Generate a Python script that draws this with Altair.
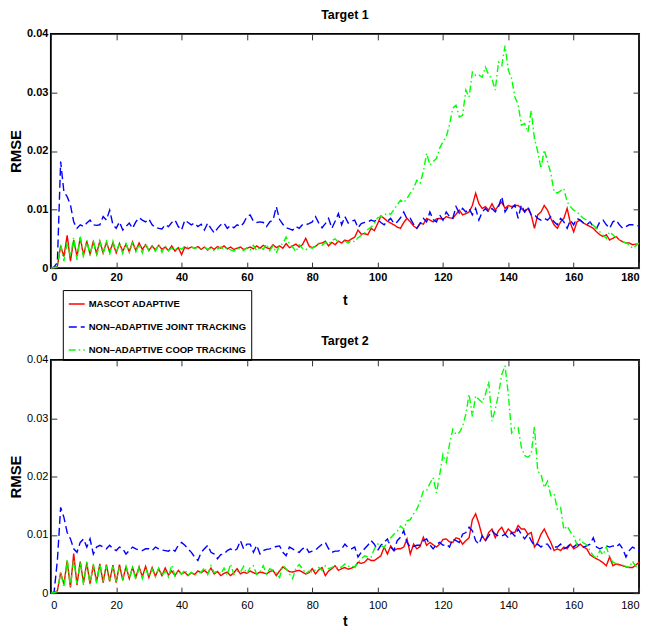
import altair as alt
import pandas as pd

# time axis
t = list(range(181))

series_names = ["MASCOT ADAPTIVE", "NON\u2013ADAPTIVE JOINT TRACKING", "NON\u2013ADAPTIVE COOP TRACKING"]
series_colors = ["#ff0000", "#0000ff", "#00ff00"]
series_dashes = [[1, 0], [8, 4], [7, 3, 1.5, 3]]

x_ticks = [0, 20, 40, 60, 80, 100, 120, 140, 160, 180]
y_ticks = [0, 0.01, 0.02, 0.03, 0.04]

# RMSE values in units of 1e-3, t = 0..180
t1_mascot = [
    0, 0.1, 0.3, 3.8, 2.0, 5.6, 1.2, 4.8, 2.0, 5.2,
    2.2, 4.6, 2.4, 4.5, 2.5, 4.6, 2.6, 4.4, 2.8, 4.3,
    2.6, 4.2, 2.9, 4.1, 2.8, 4.5, 3.0, 4.3, 3.2, 4.0,
    3.0, 3.8, 3.1, 3.9, 3.2, 3.6, 3.0, 3.8, 2.9, 3.5,
    2.3, 3.6, 3.3, 3.6, 3.4, 3.7, 3.2, 3.6, 3.1, 3.6,
    3.2, 3.7, 3.4, 3.8, 3.3, 3.6, 3.2, 3.4, 3.6, 3.2,
    3.4, 3.6, 3.3, 3.8, 3.4, 3.9, 3.5, 3.3, 4.0, 3.5,
    3.8, 3.4, 4.2, 3.5, 3.8, 4.1, 3.6, 4.0, 5.1, 3.8,
    3.5, 3.7, 4.2, 4.3, 4.6, 3.8, 4.4, 4.0, 4.6, 4.3,
    4.8, 4.6, 5.0, 5.3, 6.5, 5.8, 5.9, 5.7, 6.8, 6.4,
    7.6, 8.9, 8.5, 8.0, 7.7, 7.4, 7.0, 6.8, 7.8, 8.5,
    7.9, 7.2, 6.8, 7.7, 7.5, 8.5, 8.2, 7.9, 8.4, 8.5,
    8.3, 8.8, 8.6, 8.5, 9.2, 9.9, 9.1, 9.3, 9.6, 10.7,
    12.8, 11.0, 10.2, 10.5, 9.9, 11.0, 9.9, 10.7, 11.3, 10.2,
    10.7, 10.5, 10.7, 10.7, 10.2, 9.6, 10.2, 9.1, 6.8, 9.1,
    9.6, 10.7, 9.9, 8.5, 7.4, 6.8, 7.9, 8.5, 10.2, 7.7,
    6.2, 7.9, 8.2, 7.7, 7.4, 7.1, 6.8, 6.2, 5.7, 5.4,
    5.7, 4.8, 5.1, 5.4, 4.8, 4.5, 4.3, 4.3, 4.0, 4.1,
    4.1,
]
t1_joint = [
    0, 0.2, 1.0, 18.2, 13.0, 12.2, 10.8, 7.9, 6.8, 7.4,
    7.1, 7.7, 8.2, 7.4, 7.3, 7.4, 8.8, 8.2, 9.9, 7.4,
    6.8, 7.9, 6.5, 7.1, 7.7, 6.8, 7.9, 8.6, 8.2, 7.9,
    8.4, 7.4, 6.9, 6.8, 6.7, 7.4, 7.1, 7.8, 8.2, 7.1,
    6.5, 8.2, 7.8, 7.4, 7.7, 7.1, 7.5, 6.5, 7.7, 6.8,
    6.0, 6.8, 7.4, 7.7, 6.8, 7.3, 6.9, 7.4, 7.1, 7.7,
    8.8, 9.1, 8.0, 7.8, 7.9, 7.8, 7.1, 7.9, 8.2, 10.5,
    8.3, 7.5, 6.9, 6.7, 6.5, 7.1, 6.8, 7.4, 7.4, 7.6,
    7.9, 8.8, 7.7, 6.9, 7.6, 8.5, 6.8, 8.0, 9.3, 7.4,
    8.8, 7.7, 8.0, 8.2, 6.9, 7.6, 7.8, 7.9, 8.2, 8.0,
    8.3, 7.8, 7.4, 8.0, 8.5, 7.6, 7.9, 8.6, 9.6, 8.4,
    8.5, 7.5, 6.8, 7.6, 8.5, 7.9, 9.6, 8.3, 7.9, 9.1,
    8.2, 9.6, 8.8, 8.5, 10.5, 9.4, 10.2, 9.6, 10.2, 9.1,
    10.2, 8.2, 9.6, 10.2, 9.6, 10.2, 9.6, 10.5, 12.2, 9.6,
    10.5, 10.2, 10.8, 8.5, 10.8, 9.6, 10.5, 9.1, 9.1, 8.5,
    8.2, 8.5, 8.2, 8.8, 7.9, 7.4, 8.5, 7.9, 6.8, 8.2,
    7.4, 8.5, 8.2, 7.7, 7.4, 7.9, 7.1, 6.8, 7.9, 8.2,
    7.4, 6.8, 7.9, 8.2, 7.4, 6.8, 7.1, 7.4, 7.4, 7.3,
    7.2,
]
t1_coop = [
    0, 0.1, 0.2, 4.0, 1.2, 4.4, 2.0, 5.2, 1.4, 5.4,
    1.8, 4.8, 2.2, 4.8, 2.0, 4.6, 2.4, 4.8, 2.3, 4.6,
    2.6, 4.3, 2.5, 4.2, 2.7, 4.3, 2.8, 4.0, 2.6, 4.2,
    3.0, 3.6, 2.9, 4.0, 2.7, 3.8, 3.0, 3.4, 3.1, 3.6,
    3.2, 3.8, 3.5, 3.6, 3.4, 3.5, 3.3, 3.6, 3.2, 3.4,
    3.0, 3.3, 3.6, 3.2, 3.5, 3.1, 2.9, 3.2, 3.4, 3.0,
    3.5, 3.1, 3.9, 3.0, 3.6, 3.2, 4.1, 3.0, 3.8, 2.6,
    3.9, 4.2, 5.3, 4.2, 3.6, 2.8, 4.0, 3.4, 3.1, 3.6,
    3.4, 3.8, 4.2, 3.9, 4.4, 4.1, 4.7, 5.0, 4.4, 4.2,
    4.6, 4.3, 4.7, 4.5, 5.2, 5.6, 6.0, 6.6, 7.0, 7.6,
    8.6, 8.8, 9.0, 9.4, 9.2, 10.0, 10.8, 11.6, 11.2, 11.9,
    12.8, 13.6, 15.0, 14.5, 16.5, 19.6, 17.6, 18.2, 18.7, 20.5,
    21.6, 22.4, 24.5, 27.3, 27.8, 25.8, 26.1, 30.4, 29.2, 33.5,
    32.9, 33.0, 32.6, 34.3, 33.0, 32.3, 30.4, 35.2, 34.6, 38.0,
    33.8, 32.4, 29.2, 28.0, 24.4, 24.7, 23.2, 26.9, 22.1, 19.9,
    17.0, 20.2, 18.2, 16.2, 13.1, 12.8, 13.2, 13.6, 11.3, 10.5,
    9.9, 9.6, 9.0, 8.5, 8.2, 7.9, 7.3, 6.8, 6.2, 5.6,
    5.1, 6.2, 5.7, 5.2, 4.8, 4.5, 4.3, 4.0, 3.4, 3.8,
    4.3,
]
t2_mascot = [
    0, 0.1, 0.4, 3.5, 1.5, 5.5, 1.0, 6.8, 1.4, 5.4,
    1.8, 5.2, 1.6, 4.8, 2.0, 5.0, 1.8, 4.9, 2.0, 4.8,
    1.8, 4.9, 2.2, 4.6, 2.5, 4.4, 2.7, 4.5, 2.8, 4.6,
    2.7, 4.4, 2.9, 4.2, 3.0, 4.3, 3.1, 3.8, 3.0, 3.9,
    3.3, 3.6, 3.0, 3.5, 3.2, 3.8, 3.5, 3.9, 3.4, 4.3,
    3.3, 3.7, 3.0, 3.4, 3.6, 3.0, 3.5, 4.2, 3.3, 3.6,
    3.4, 3.8, 3.5, 3.3, 3.6, 3.5, 3.3, 3.7, 3.9, 3.0,
    3.8, 4.5, 4.1, 3.7, 3.6, 3.8, 3.9, 3.6, 3.3, 3.5,
    4.2, 3.3, 4.0, 4.4, 3.0, 3.8, 4.2, 4.7, 3.9, 4.2,
    4.4, 4.1, 4.3, 4.5, 5.3, 5.1, 5.3, 5.9, 5.6, 5.6,
    6.0, 6.4, 7.9, 6.7, 8.1, 7.3, 7.6, 7.6, 7.9, 9.3,
    6.7, 8.4, 7.6, 8.0, 9.6, 8.2, 8.7, 8.3, 7.9, 8.4,
    9.2, 9.3, 8.8, 8.7, 9.5, 9.3, 8.4, 9.0, 9.5, 12.6,
    13.6, 11.9, 9.8, 9.0, 10.4, 11.0, 9.5, 10.7, 11.3, 10.1,
    11.0, 10.4, 10.4, 11.6, 11.0, 11.0, 10.1, 10.4, 7.9, 8.7,
    10.1, 11.0, 9.8, 8.7, 7.3, 7.6, 7.3, 7.9, 7.6, 8.4,
    7.6, 7.9, 8.4, 7.9, 7.6, 6.6, 6.2, 5.9, 5.6, 5.2,
    4.7, 6.2, 4.7, 5.0, 4.9, 4.7, 4.5, 4.4, 4.4, 4.8,
    5.3,
]
t2_joint = [
    0, 0.2, 5.6, 14.7, 13.0, 10.4, 9.3, 7.6, 7.0, 8.7,
    9.3, 7.9, 9.3, 6.7, 7.9, 8.2, 7.9, 7.6, 8.2, 7.6,
    7.3, 7.9, 7.6, 6.7, 7.3, 7.9, 7.6, 7.4, 7.3, 7.6,
    7.6, 7.3, 7.9, 7.6, 7.4, 7.3, 7.2, 7.6, 7.2, 8.2,
    8.7, 8.2, 7.6, 7.0, 6.2, 5.6, 7.0, 7.6, 8.2, 7.0,
    6.7, 5.9, 6.6, 6.7, 7.3, 7.6, 7.2, 7.6, 9.0, 7.6,
    8.4, 8.4, 7.0, 8.2, 6.7, 7.3, 7.5, 7.6, 7.8, 8.0,
    8.1, 7.0, 6.4, 7.9, 7.6, 7.2, 7.0, 7.6, 7.9, 7.0,
    7.2, 7.4, 7.9, 8.4, 8.7, 7.6, 7.0, 7.2, 7.2, 7.6,
    8.4, 7.8, 7.6, 7.9, 6.2, 7.0, 7.6, 8.2, 9.0, 8.4,
    7.3, 8.2, 8.7, 9.3, 7.9, 7.3, 9.0, 9.6, 10.7, 8.7,
    7.9, 8.0, 8.2, 8.2, 9.0, 9.3, 8.3, 7.6, 8.4, 8.7,
    8.2, 8.4, 7.9, 9.3, 9.0, 8.7, 10.1, 10.4, 11.3, 10.7,
    9.0, 8.4, 9.8, 9.0, 9.8, 10.7, 10.1, 9.8, 9.8, 10.1,
    9.5, 10.4, 9.8, 11.0, 10.1, 9.3, 10.1, 9.0, 8.1, 8.4,
    7.9, 8.4, 8.4, 7.6, 7.9, 7.9, 8.4, 7.6, 7.9, 8.4,
    7.9, 8.4, 8.1, 7.9, 8.1, 8.4, 9.5, 7.9, 7.6, 7.9,
    8.1, 7.9, 8.1, 7.9, 8.4, 7.6, 6.2, 7.3, 7.9, 7.6,
    7.3,
]
t2_coop = [
    0, 0.1, 0.3, 3.6, 1.0, 5.8, 1.2, 5.8, 1.6, 5.4,
    1.4, 5.4, 1.5, 5.0, 1.6, 5.0, 2.0, 4.7, 2.2, 4.6,
    2.0, 4.4, 2.4, 4.6, 2.6, 4.4, 2.3, 4.4, 2.5, 4.2,
    2.8, 4.1, 2.8, 4.3, 3.0, 3.8, 2.8, 4.8, 2.9, 3.8,
    3.2, 4.0, 3.1, 3.6, 3.0, 3.4, 3.6, 4.4, 3.2, 4.7,
    3.5, 3.8, 3.3, 4.3, 3.1, 5.0, 3.2, 3.8, 3.6, 4.6,
    3.3, 4.4, 4.7, 3.2, 3.6, 4.7, 3.3, 4.2, 3.9, 3.4,
    2.7, 4.7, 4.2, 3.3, 2.5, 4.3, 4.9, 4.2, 3.3, 3.8,
    3.6, 4.0, 4.4, 3.9, 4.7, 4.2, 4.4, 4.7, 4.2, 4.5,
    5.0, 4.6, 4.7, 4.4, 5.2, 5.9, 6.4, 6.2, 6.2, 7.6,
    8.4, 8.2, 7.8, 8.8, 9.5, 10.1, 10.6, 11.5, 11.0, 12.4,
    12.6, 13.6, 14.4, 15.8, 17.5, 17.6, 18.8, 19.8, 17.2, 20.3,
    23.8, 22.4, 25.5, 28.1, 27.2, 27.5, 28.6, 30.7, 34.1, 30.3,
    33.8, 33.2, 32.7, 34.1, 36.3, 29.5, 31.5, 34.1, 37.5, 39.0,
    34.1, 27.5, 28.4, 28.4, 25.0, 23.6, 23.3, 23.8, 28.6, 20.9,
    20.4, 18.1, 19.2, 16.7, 17.0, 14.4, 14.7, 10.9, 11.5, 10.5,
    9.8, 8.3, 9.2, 8.6, 8.3, 7.3, 6.4, 5.9, 7.3, 6.6,
    7.9, 6.2, 5.3, 5.0, 4.7, 4.8, 4.6, 4.4, 5.5, 4.6,
    4.4,
]

for s in [t1_mascot, t1_joint, t1_coop, t2_mascot, t2_joint, t2_coop]:
    assert len(s) == len(t), len(s)

FONT = "Liberation Sans, Arial, sans-serif"
W, H1, H2 = 590, 235, 234


def frame(red, blue, green):
    rows = []
    for name, vals in zip(series_names, [red, blue, green]):
        for ti, v in zip(t, vals):
            rows.append({"t": ti, "rmse": v / 1000.0, "series": name})
    return pd.DataFrame(rows)


def panel(df, title, bold, show_legend, h, xlab_pad, xtitle_pad):
    fw = "bold" if bold else "normal"
    xs = alt.Scale(domain=[0, 180], nice=False, zero=False, padding=0)
    ys = alt.Scale(domain=[0, 0.04], nice=False, padding=0)
    cscale = alt.Scale(domain=series_names, range=series_colors)
    dscale = alt.Scale(domain=series_names, range=series_dashes)
    if show_legend:
        leg = alt.Legend(
            title=None, orient="none", legendX=12, legendY=257,
            fillColor="white", strokeColor="black", padding=5,
            rowPadding=9, labelFont=FONT, labelFontSize=9.5,
            labelFontWeight="bold", labelColor="black", labelLimit=400,
            symbolType="stroke", symbolSize=256, symbolStrokeWidth=1.5,
            labelOffset=3,
        )
    else:
        leg = None

    lines = alt.Chart(df).mark_line(strokeWidth=1.4).encode(
        x=alt.X("t:Q", scale=xs, axis=alt.Axis(
            values=x_ticks, format="d", ticks=False, tickSize=0, domain=False,
            grid=False, labelPadding=xlab_pad, labelFont=FONT, labelFontSize=11,
            labelFontWeight=fw, labelColor="black", title="t",
            titleFont=FONT, titleFontSize=14, titleFontWeight="bold",
            titleColor="black", titlePadding=xtitle_pad)),
        y=alt.Y("rmse:Q", scale=ys, axis=alt.Axis(
            values=y_ticks, format="~g", ticks=False, tickSize=0, domain=False,
            grid=False, labelPadding=3, labelFont=FONT, labelFontSize=11,
            labelFontWeight=fw, labelColor="black", title="RMSE",
            titleFont=FONT, titleFontSize=15, titleFontWeight="bold",
            titleColor="black", titlePadding=3)),
        color=alt.Color("series:N", scale=cscale, legend=leg, sort=series_names),
        strokeDash=alt.StrokeDash("series:N", scale=dscale, legend=leg, sort=series_names),
    )

    tick_common = dict(labels=False, domain=False, grid=False, ticks=True,
                       tickSize=6, tickColor="#333333", tickWidth=1, title=None)
    inner_a = alt.Chart(df).mark_point(opacity=0, size=1).encode(
        x=alt.X("t:Q", scale=xs, axis=alt.Axis(values=x_ticks, orient="top", offset=-h, **tick_common)),
        y=alt.Y("rmse:Q", scale=ys, axis=alt.Axis(values=y_ticks, orient="right", offset=-W, **tick_common)),
    )
    inner_b = alt.Chart(df).mark_point(opacity=0, size=1).encode(
        x=alt.X("t:Q", scale=xs, axis=alt.Axis(values=x_ticks, orient="bottom", offset=-h, **tick_common)),
        y=alt.Y("rmse:Q", scale=ys, axis=alt.Axis(values=y_ticks, orient="left", offset=-W, **tick_common)),
    )

    return alt.layer(lines, inner_a, inner_b).resolve_axis(
        x="independent", y="independent"
    ).properties(
        width=W, height=h,
        title=alt.TitleParams(title, font=FONT, fontSize=12.5, fontWeight="bold",
                              color="black", offset=6, anchor="middle",
                              frame="group"),
    )


top = panel(frame(t1_mascot, t1_joint, t1_coop), "Target 1", True, True, H1, 3, 11)
bottom = panel(frame(t2_mascot, t2_joint, t2_coop), "Target 2", False, False, H2, 6, 4)

chart = alt.vconcat(top, bottom, spacing=92, bounds="flush").resolve_scale(
    color="independent", strokeDash="independent"
).properties(
    padding={"left": 7, "top": 7, "right": 5, "bottom": 1},
    background="white",
).configure_view(stroke="black", strokeWidth=1.8)

chart.save("out.html", embed_options={"renderer": "svg", "actions": False})
